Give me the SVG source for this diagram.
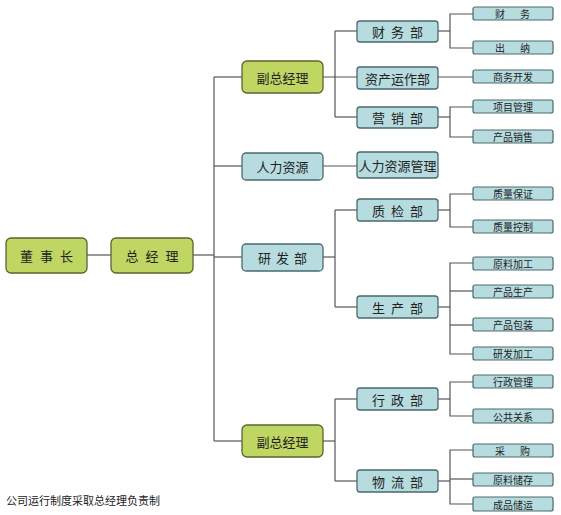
<svg xmlns="http://www.w3.org/2000/svg" width="561" height="515" viewBox="0 0 561 515">
<style>
.g{fill:#bfd663;stroke:#55652e;stroke-width:1.3}
.b{fill:#b7dce0;stroke:#4a6a6d;stroke-width:1.3}
.s{fill:#b7dce0;stroke:#4a6a6d;stroke-width:1.2}
text{font-family:"Noto Sans CJK SC","Noto Sans CJK JP",sans-serif;fill:#222;text-anchor:middle;dominant-baseline:central}
.t{font-size:13px}
.m{font-size:10px}
.c line,.c polyline{stroke:#555;stroke-width:1.2;fill:none}
</style>
<rect width="561" height="515" fill="#fff"/>
<g class="c" id="connectors">
<line x1="87" y1="255" x2="111" y2="255"/>
<line x1="193" y1="255" x2="214" y2="255"/>
<line x1="214" y1="77" x2="214" y2="441"/>
<line x1="214" y1="77" x2="242" y2="77"/>
<line x1="214" y1="166" x2="242" y2="166"/>
<line x1="214" y1="257" x2="242" y2="257"/>
<line x1="214" y1="441" x2="242" y2="441"/>
<line x1="323" y1="77" x2="357" y2="77"/>
<line x1="335" y1="31" x2="335" y2="117"/>
<line x1="335" y1="31" x2="357" y2="31"/>
<line x1="335" y1="117" x2="357" y2="117"/>
<line x1="323" y1="166" x2="357" y2="166"/>
<line x1="323" y1="257" x2="335" y2="257"/>
<line x1="335" y1="210" x2="335" y2="307"/>
<line x1="335" y1="210" x2="357" y2="210"/>
<line x1="335" y1="307" x2="357" y2="307"/>
<line x1="323" y1="441" x2="335" y2="441"/>
<line x1="335" y1="399" x2="335" y2="481"/>
<line x1="335" y1="399" x2="357" y2="399"/>
<line x1="335" y1="481" x2="357" y2="481"/>
<line x1="438" y1="31" x2="450" y2="31"/>
<polyline points="473,14 450,14 450,48 473,48"/>
<line x1="438" y1="77" x2="473" y2="77"/>
<line x1="438" y1="117" x2="450" y2="117"/>
<polyline points="473,107 450,107 450,137 473,137"/>
<line x1="438" y1="210" x2="450" y2="210"/>
<polyline points="473,194 450,194 450,227 473,227"/>
<line x1="438" y1="307" x2="450" y2="307"/>
<polyline points="473,263 450,263 450,354 473,354"/>
<line x1="450" y1="291" x2="473" y2="291"/>
<line x1="450" y1="325" x2="473" y2="325"/>
<line x1="438" y1="399" x2="450" y2="399"/>
<polyline points="473,382 450,382 450,416 473,416"/>
<line x1="438" y1="481" x2="450" y2="481"/>
<polyline points="473,450 450,450 450,504 473,504"/>
<line x1="450" y1="479" x2="473" y2="479"/>
</g>
<g id="dongshizhang"><rect class="g" x="6" y="238" width="81" height="35" rx="5"/><text class="t" x="50" y="255.5" letter-spacing="7">董事长</text></g>
<g id="zongjingli"><rect class="g" x="111" y="238" width="82" height="35" rx="5"/><text class="t" x="155.5" y="255.5" letter-spacing="7">总经理</text></g>
<g id="fuzong1"><rect class="g" x="242" y="61" width="81" height="32" rx="5"/><text class="t" x="282.5" y="77">副总经理</text></g>
<g id="renli"><rect class="b" x="242" y="153" width="81" height="27" rx="4"/><text class="t" x="282.5" y="166.5">人力资源</text></g>
<g id="yanfa"><rect class="b" x="242" y="244" width="81" height="27" rx="4"/><text class="t" x="285" y="257.5" letter-spacing="5">研发部</text></g>
<g id="fuzong2"><rect class="g" x="242" y="425" width="81" height="32" rx="5"/><text class="t" x="282.5" y="441">副总经理</text></g>
<g id="caiwubu"><rect class="b" x="357" y="21" width="81" height="21" rx="3"/><text class="t" x="400.5" y="31.5" letter-spacing="6">财务部</text></g>
<g id="zichan"><rect class="b" x="357" y="67" width="81" height="22" rx="3"/><text class="t" x="397.5" y="78">资产运作部</text></g>
<g id="yingxiao"><rect class="b" x="357" y="107" width="81" height="21" rx="3"/><text class="t" x="400.5" y="117.5" letter-spacing="6">营销部</text></g>
<g id="renliguanli"><rect class="b" x="357" y="152" width="81" height="26" rx="3"/><text class="t" x="397.5" y="165">人力资源管理</text></g>
<g id="zhijian"><rect class="b" x="357" y="199" width="81" height="22" rx="3"/><text class="t" x="400.5" y="210" letter-spacing="6">质检部</text></g>
<g id="shengchan"><rect class="b" x="357" y="296" width="81" height="22" rx="3"/><text class="t" x="400.5" y="307" letter-spacing="6">生产部</text></g>
<g id="xingzheng"><rect class="b" x="357" y="388" width="81" height="22" rx="3"/><text class="t" x="400.5" y="399" letter-spacing="6">行政部</text></g>
<g id="wuliu"><rect class="b" x="357" y="470" width="81" height="22" rx="3"/><text class="t" x="400.5" y="481" letter-spacing="6">物流部</text></g>
<g id="caiwu"><rect class="s" x="473" y="7" width="80" height="13" rx="2"/><text class="m" x="520" y="13.5" letter-spacing="15">财务</text></g>
<g id="chuna"><rect class="s" x="473" y="41" width="80" height="13" rx="2"/><text class="m" x="520" y="47.5" letter-spacing="15">出纳</text></g>
<g id="shangwu"><rect class="s" x="473" y="70" width="80" height="13" rx="2"/><text class="m" x="513" y="76.5">商务开发</text></g>
<g id="xiangmu"><rect class="s" x="473" y="100" width="80" height="13" rx="2"/><text class="m" x="513" y="106.5">项目管理</text></g>
<g id="xiaoshou"><rect class="s" x="473" y="130" width="80" height="13" rx="2"/><text class="m" x="513" y="136.5">产品销售</text></g>
<g id="baozheng"><rect class="s" x="473" y="187" width="80" height="13" rx="2"/><text class="m" x="513" y="193.5">质量保证</text></g>
<g id="kongzhi"><rect class="s" x="473" y="220" width="80" height="13" rx="2"/><text class="m" x="513" y="226.5">质量控制</text></g>
<g id="yuanliao"><rect class="s" x="473" y="257" width="80" height="13" rx="2"/><text class="m" x="513" y="263.5">原料加工</text></g>
<g id="chanpinsc"><rect class="s" x="473" y="285" width="80" height="13" rx="2"/><text class="m" x="513" y="291.5">产品生产</text></g>
<g id="baozhuang"><rect class="s" x="473" y="318" width="80" height="13" rx="2"/><text class="m" x="513" y="324.5">产品包装</text></g>
<g id="yanfajg"><rect class="s" x="473" y="347" width="80" height="13" rx="2"/><text class="m" x="513" y="353.5">研发加工</text></g>
<g id="xingzhenggl"><rect class="s" x="473" y="375" width="80" height="13" rx="2"/><text class="m" x="513" y="381.5">行政管理</text></g>
<g id="gonggong"><rect class="s" x="473" y="409" width="80" height="14" rx="2"/><text class="m" x="513" y="416">公共关系</text></g>
<g id="caigou"><rect class="s" x="473" y="444" width="80" height="13" rx="2"/><text class="m" x="520" y="450.5" letter-spacing="15">采购</text></g>
<g id="yuanliaocc"><rect class="s" x="473" y="473" width="80" height="13" rx="2"/><text class="m" x="513" y="479.5">原料储存</text></g>
<g id="chengpin"><rect class="s" x="473" y="497" width="80" height="14" rx="2"/><text class="m" x="513" y="504">成品储运</text></g>
<text x="6" y="500" style="font-size:11px;text-anchor:start">公司运行制度采取总经理负责制</text>
</svg>
